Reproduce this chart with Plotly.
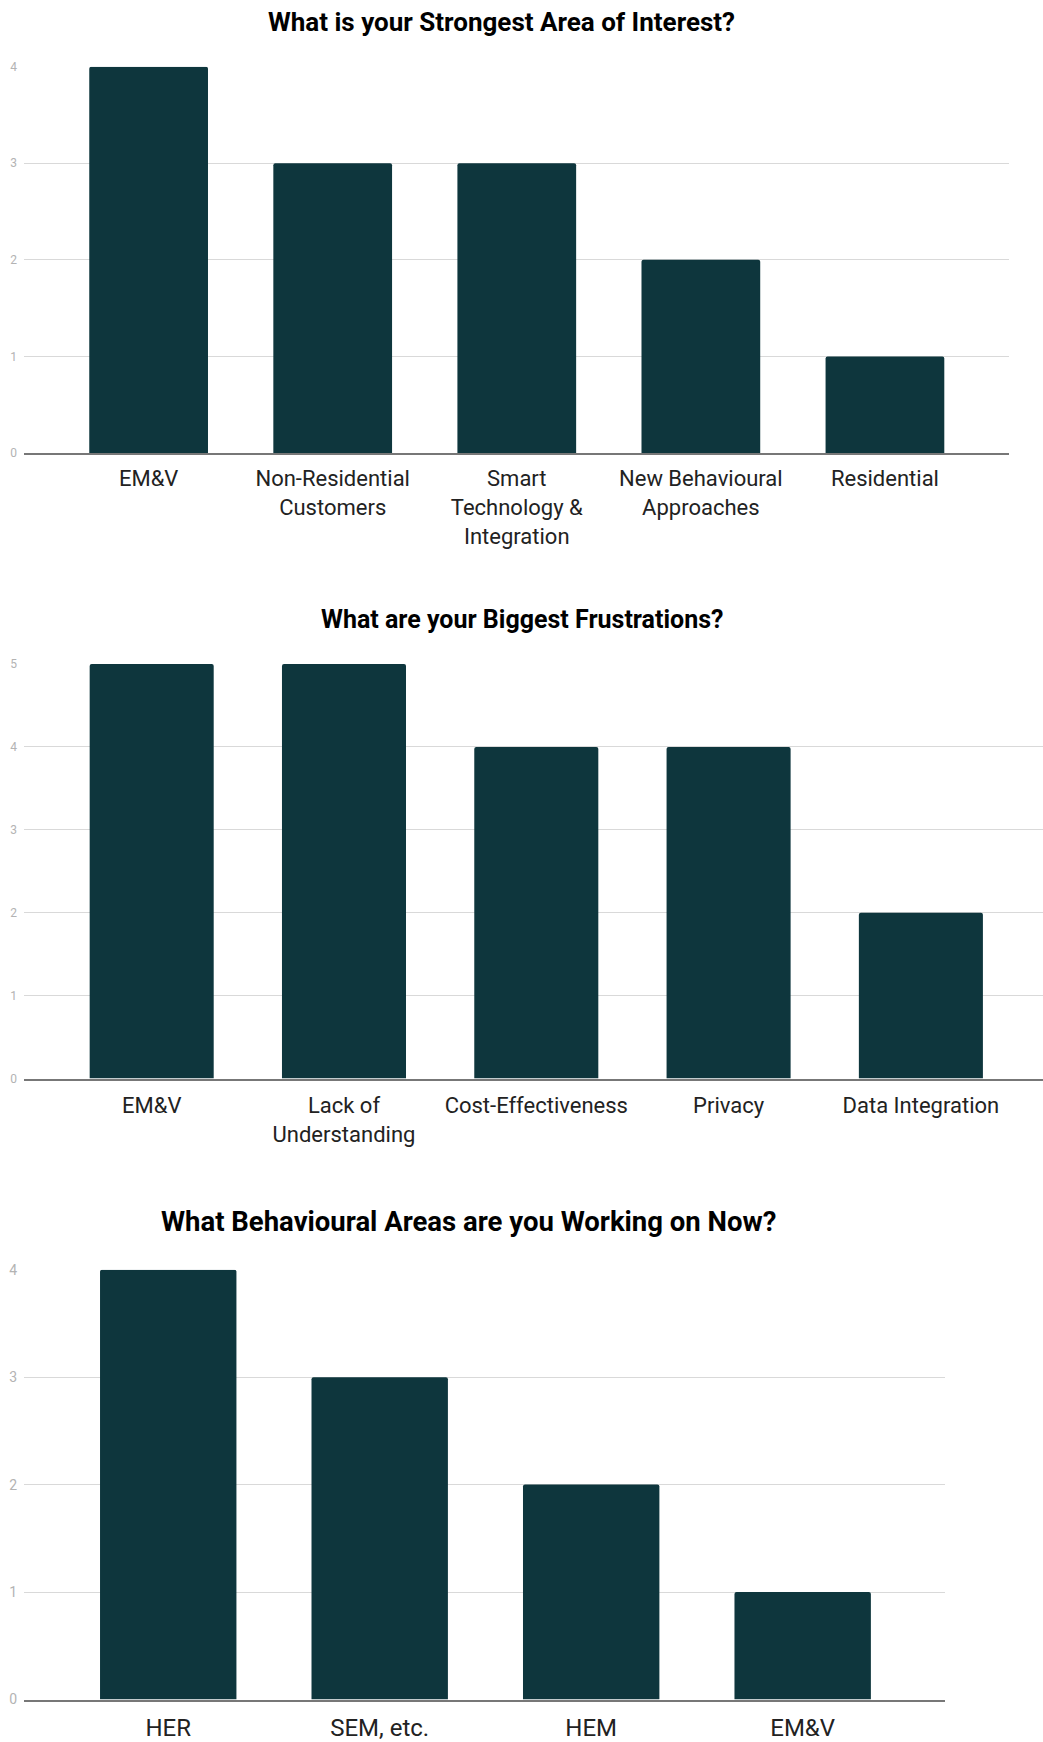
import plotly.graph_objects as go

W, H = 1043, 1742

title1 = "What is your Strongest Area of Interest?"
cats1 = ["EM&V", "Non-Residential<br>Customers", "Smart<br>Technology &<br>Integration",
         "New Behavioural<br>Approaches", "Residential"]
vals1 = [4, 3, 3, 2, 1]

title2 = "What are your Biggest Frustrations?"
cats2 = ["EM&V", "Lack of<br>Understanding", "Cost-Effectiveness", "Privacy", "Data Integration"]
vals2 = [5, 5, 4, 4, 2]

title3 = "What Behavioural Areas are you Working on Now?"
cats3 = ["HER", "SEM, etc.", "HEM", "EM&V"]
vals3 = [4, 3, 2, 1]

BAR = "#0e363d"
FONT = "Roboto"
S = 1043 / 939  # shrunk-to-full factor for measured positions

def py(px):
    return 1 - px / H

def pxx(px):
    return px / W

fig = go.Figure()

panels = [
    dict(cats=cats1, vals=vals1, title=title1, ax="x", ay="y", ymax=4,
         xdom=[pxx(24), pxx(1009)], ydom=[py(453), py(66.7)], xr=[-0.677, 4.674],
         tx=451.5 * S, ty=20 * S, tsize=26, lsize=22, ysize=12, standoff=5),
    dict(cats=cats2, vals=vals2, title=title2, ax="x2", ay="y2", ymax=5,
         xdom=[pxx(24), 1.0], ydom=[py(1078.6), py(664)], xr=[-0.664, 4.635],
         tx=469.5 * S, ty=558 * S, tsize=25, lsize=22, ysize=12, standoff=6),
    dict(cats=cats3, vals=vals3, title=title3, ax="x3", ay="y3", ymax=4,
         xdom=[pxx(24), pxx(945)], ydom=[py(1699.5), py(1269.7)], xr=[-0.682, 3.673],
         tx=422 * S, ty=1100 * S, tsize=27.5, lsize=24, ysize=14, standoff=6),
]

annotations = []
for i, p in enumerate(panels):
    fig.add_trace(go.Bar(
        x=p["cats"], y=p["vals"], xaxis=p["ax"], yaxis=p["ay"],
        marker=dict(color=BAR, line=dict(width=0), cornerradius=2),
        width=0.645, showlegend=False, hoverinfo="x+y"))
    sfx = "" if i == 0 else str(i + 1)
    fig.layout["xaxis" + sfx] = dict(
        domain=p["xdom"], range=p["xr"], anchor=p["ay"], showgrid=False,
        showline=True, linecolor="#777777", linewidth=2, zeroline=False,
        ticks="", ticklabelstandoff=p["standoff"], automargin=False,
        tickfont=dict(family=FONT, size=p["lsize"], color="#222222"),
        fixedrange=True)
    fig.layout["yaxis" + sfx] = dict(
        domain=p["ydom"], range=[0, p["ymax"]], anchor=p["ax"], dtick=1,
        showgrid=True, gridcolor="#d9d9d9", gridwidth=1, zeroline=False,
        showline=False, ticks="", ticklabelstandoff=6, automargin=False,
        tickfont=dict(family=FONT, size=p["ysize"], color="#b3b3b3"),
        fixedrange=True)
    annotations.append(dict(
        text="<b>" + p["title"] + "</b>", x=pxx(p["tx"]), y=py(p["ty"]),
        xref="paper", yref="paper", xanchor="center", yanchor="middle",
        showarrow=False, font=dict(family=FONT, size=p["tsize"], color="#000000")))

fig.update_layout(
    width=W, height=H, margin=dict(l=0, r=0, t=0, b=0, autoexpand=False),
    paper_bgcolor="white", plot_bgcolor="white",
    annotations=annotations, bargap=0.355,
    font=dict(family=FONT))

fig.write_html("out.html")
